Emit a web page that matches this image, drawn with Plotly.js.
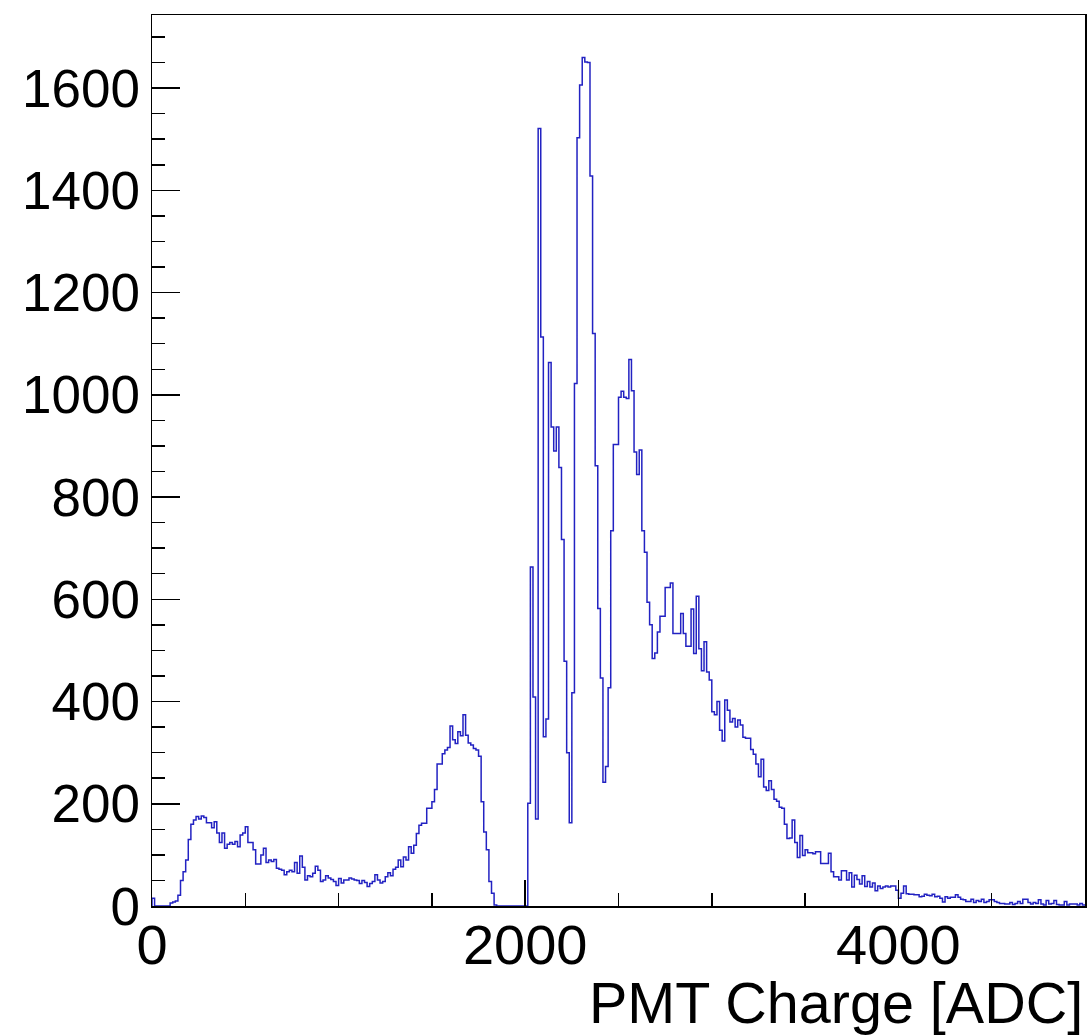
<!DOCTYPE html>
<html>
<head>
<meta charset="utf-8">
<script src="https://cdn.plot.ly/plotly-3.0.1.min.js"></script>
<style>
html,body{margin:0;padding:0;background:#ffffff;}
#chart{width:1091px;height:1035px;}
</style>
</head>
<body>
<div id="chart"></div>
<script>
// Histogram range (ADC)
const xMin = 0;
const xMax = 5000;

// Bin contents (360 bins over 0-5000 ADC)
const counts = [
  15,0,0,0,0,0,0,6,8,10,
  21,50,67,90,130,160,168,175,170,176,
  173,163,163,153,165,143,124,143,113,121,
  124,121,126,116,139,143,155,124,124,110,
  82,82,100,113,85,90,87,91,74,72,
  70,61,67,70,67,85,64,98,76,51,
  59,57,64,78,70,48,51,59,55,52,
  48,40,54,45,51,51,55,53,51,50,
  44,50,46,38,44,48,61,51,45,48,
  57,65,59,72,76,90,77,96,90,116,
  103,119,142,158,162,162,191,191,204,228,
  278,278,298,305,310,352,325,318,341,333,
  374,334,319,315,308,305,293,204,145,110,
  48,25,2,0,0,0,0,0,0,0,
  0,0,0,0,0,201,663,409,170,1521,
  1113,331,366,1063,937,890,937,858,717,479,
  300,163,417,1022,1503,1606,1660,1651,1650,1428,
  1120,861,582,446,242,273,427,734,903,903,
  995,1007,995,993,1069,1008,888,844,892,734,
  692,594,550,484,495,536,567,567,623,623,
  632,533,533,533,572,533,508,508,581,494,
  606,503,460,517,458,442,380,374,400,344,
  323,403,383,360,367,350,364,354,330,328,
  328,306,297,278,253,287,233,226,245,228,
  209,205,193,191,160,132,133,168,124,95,
  138,99,110,104,104,102,106,106,83,83,
  83,103,67,57,57,51,69,69,51,65,
  37,60,52,43,59,38,48,37,45,30,
  39,34,37,39,37,39,39,31,15,25,
  39,24,23,23,22,22,18,19,23,21,
  20,23,18,19,15,8,18,15,17,17,
  22,17,13,12,9,9,13,7,11,9,
  13,7,9,12,12,9,7,5,5,4,
  4,7,3,5,9,5,13,13,7,4,
  7,5,12,4,2,11,4,5,11,3,
  2,2,9,2,4,4,4,2,5,2
];

// Tick labels
const xTickVals = [0, 2000, 4000];
const xTickText = ['0', '2000', '4000'];
const yTickVals = [0, 200, 400, 600, 800, 1000, 1200, 1400, 1600];
const yTickText = ['0', '200', '400', '600', '800', '1000', '1200', '1400', '1600'];
const xTitle = 'PMT Charge [ADC]';

// Build step outline (ROOT-style histogram)
const nBins = counts.length;
const binWidth = (xMax - xMin) / nBins;
const stepX = [xMin];
const stepY = [0];
for (let i = 0; i < nBins; i++) {
  stepX.push(xMin + i * binWidth);
  stepY.push(counts[i]);
}
stepX.push(xMax);
stepY.push(counts[nBins - 1]);

const trace = {
  type: 'scatter',
  mode: 'lines',
  x: stepX,
  y: stepY,
  line: {shape: 'hv', color: '#2222c2', width: 1.5},
  hoverinfo: 'skip'
};

const fam = 'Liberation Sans, Arial, Helvetica, sans-serif';

const layout = {
  width: 1091,
  height: 1035,
  margin: {l: 152, r: 6, t: 15, b: 129, pad: 0},
  paper_bgcolor: '#ffffff',
  plot_bgcolor: '#ffffff',
  showlegend: false,
  font: {family: fam, color: '#000'},
  xaxis: {
    range: [xMin, xMax],
    tickmode: 'array',
    tickvals: xTickVals,
    ticktext: xTickText,
    ticks: 'inside',
    ticklen: 26,
    tickwidth: 1.5,
    tickcolor: '#000',
    tickfont: {family: fam, size: 56, color: '#000'},
    ticklabelstandoff: -11,
    showline: true,
    linecolor: '#000',
    linewidth: 1.5,
    mirror: true,
    showgrid: false,
    zeroline: false,
    minor: {tickmode: 'linear', tick0: 0, dtick: 500, ticks: 'inside', ticklen: 13, tickwidth: 1.5, tickcolor: '#000', showgrid: false}
  },
  yaxis: {
    range: [0, 1743],
    tickmode: 'array',
    tickvals: yTickVals,
    ticktext: yTickText,
    ticks: 'inside',
    ticklen: 28,
    tickwidth: 1.5,
    tickcolor: '#000',
    tickfont: {family: fam, size: 53, color: '#000'},
    showline: true,
    linecolor: '#000',
    linewidth: 1.5,
    mirror: true,
    showgrid: false,
    zeroline: false,
    minor: {tickmode: 'linear', tick0: 0, dtick: 50, ticks: 'inside', ticklen: 13, tickwidth: 1.5, tickcolor: '#000', showgrid: false}
  },
  annotations: [{
    text: xTitle,
    xref: 'paper', yref: 'paper',
    x: 1.0, xanchor: 'right',
    y: -0.1089, yanchor: 'middle',
    showarrow: false,
    font: {family: fam, size: 57.5, color: '#000'}
  }]
};

Plotly.newPlot('chart', [trace], layout, {staticPlot: true, displayModeBar: false});
</script>
</body>
</html>
